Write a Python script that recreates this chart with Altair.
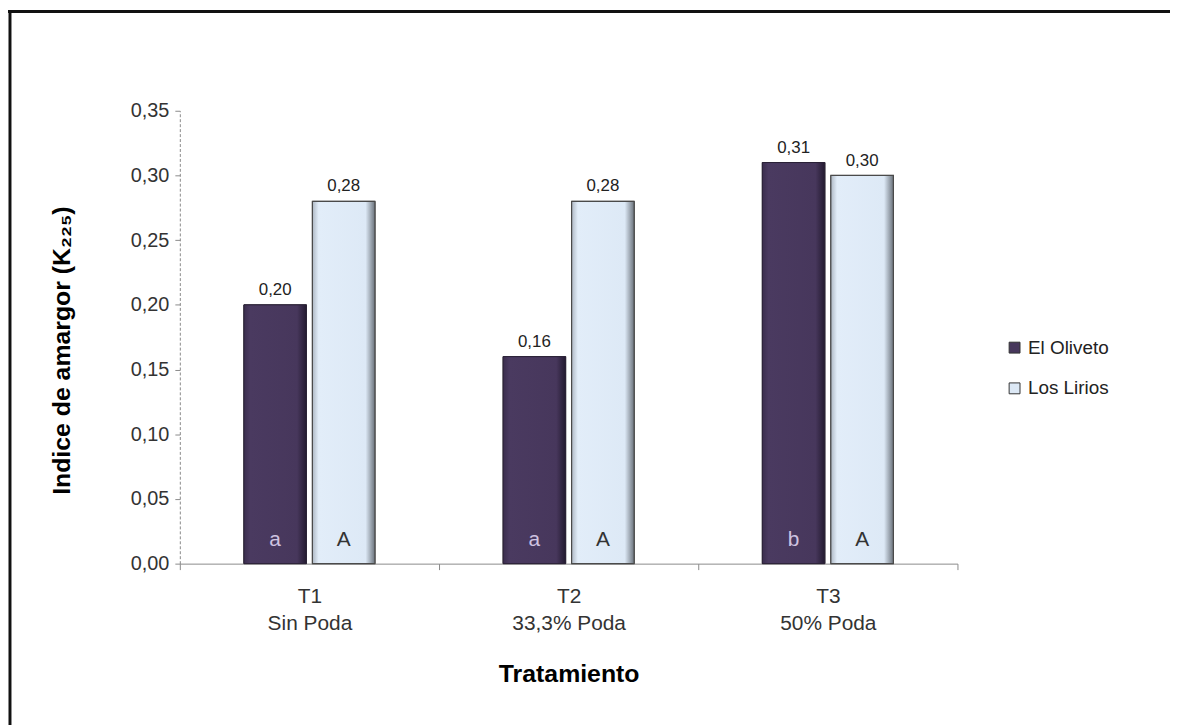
import altair as alt
import pandas as pd

categories = ["T1|Sin Poda", "T2|33,3% Poda", "T3|50% Poda"]
series = ["El Oliveto", "Los Lirios"]
oliveto = [0.20, 0.16, 0.31]
lirios = [0.28, 0.28, 0.30]
letters_oliveto = ["a", "a", "b"]
letters_lirios = ["A", "A", "A"]
y_ticks = [0, 0.05, 0.10, 0.15, 0.20, 0.25, 0.30, 0.35]

rows = []
for i, c in enumerate(categories):
    rows.append({"cat": c, "serie": series[0], "value": oliveto[i], "letter": letters_oliveto[i]})
    rows.append({"cat": c, "serie": series[1], "value": lirios[i], "letter": letters_lirios[i]})
df = pd.DataFrame(rows)

FONT = "Liberation Sans"

x_enc = alt.X(
    "cat:N", sort=categories,
    scale=alt.Scale(paddingInner=0, paddingOuter=0),
    axis=alt.Axis(
        title="Tratamiento", labelExpr="split(datum.label, '|')", labelAngle=0,
        tickBand="extent", labelFontSize=21, labelColor="#333333", labelFont=FONT,
        labelLineHeight=27, labelPadding=16, tickSize=6, tickColor="#8a8a8a",
        domainColor="#8a8a8a", titleFontSize=25, titleFont=FONT, titleFontWeight="bold",
        titleColor="#000000", titlePadding=29,
    ),
)
xoff_enc = alt.XOffset("serie:N", sort=series,
                       scale=alt.Scale(domain=series, paddingInner=0.087, paddingOuter=0.935))
y_enc = alt.Y(
    "value:Q",
    scale=alt.Scale(domain=[0, 0.35], nice=False, zero=True),
    axis=alt.Axis(
        values=y_ticks, labelExpr="replace(format(datum.value, '.2f'), '.', ',')",
        title="Indice de amargor (K₂₂₅)", labelFontSize=20, labelColor="#333333",
        labelFont=FONT, labelPadding=6, tickSize=5, tickColor="#8a8a8a",
        domainColor="#8a8a8a", domainDash=[3, 2], grid=False,
        titleFontSize=25, titleFont=FONT, titleFontWeight="bold", titleColor="#000000",
        titlePadding=56, titleY=241,
    ),
)

base = alt.Chart(df)

bars = base.mark_bar(stroke="#3a3a3a", strokeWidth=1).encode(
    x=x_enc, xOffset=xoff_enc, y=y_enc,
    color=alt.Color(
        "serie:N",
        scale=alt.Scale(domain=series, range=["#47375c", "#dce8f5"]),
        legend=alt.Legend(
            title=None, orient="none", legendX=831, legendY=229,
            labelFontSize=19, labelFont=FONT, labelColor="#222222",
            symbolType="square", symbolSize=120, symbolStrokeColor="#333333",
            symbolStrokeWidth=1, labelOffset=4, rowPadding=21,
        ),
    ),
)

grad_dark = alt.Gradient(
    gradient="linear", x1=0, x2=1, y1=0, y2=0,
    stops=[alt.GradientStop(color="#3b2e4e", offset=0),
           alt.GradientStop(color="#4a3a60", offset=0.1),
           alt.GradientStop(color="#47375c", offset=0.85),
           alt.GradientStop(color="#231a30", offset=1)],
)
grad_light = alt.Gradient(
    gradient="linear", x1=0, x2=1, y1=0, y2=0,
    stops=[alt.GradientStop(color="#aeb8c4", offset=0),
           alt.GradientStop(color="#e2edf9", offset=0.1),
           alt.GradientStop(color="#dde9f6", offset=0.85),
           alt.GradientStop(color="#6b737c", offset=1)],
)

over_dark = base.transform_filter(alt.datum.serie == series[0]).mark_bar(
    fill=grad_dark, stroke="#2a2136", strokeWidth=1
).encode(x=x_enc, xOffset=xoff_enc, y=y_enc)
over_light = base.transform_filter(alt.datum.serie == series[1]).mark_bar(
    fill=grad_light, stroke="#4a4a4a", strokeWidth=1.2
).encode(x=x_enc, xOffset=xoff_enc, y=y_enc)

values_txt = base.transform_calculate(
    label="replace(format(datum.value, '.2f'), '.', ',')"
).mark_text(baseline="alphabetic", dy=-10, fontSize=17, font=FONT, color="#222222").encode(
    x=x_enc, xOffset=xoff_enc, y=y_enc, text="label:N"
)

letters_txt = base.mark_text(baseline="alphabetic", dy=-18, fontSize=21, font=FONT).encode(
    x=x_enc, xOffset=xoff_enc, y=alt.datum(0), text="letter:N",
    color=alt.condition(alt.datum.serie == series[0], alt.value("#cfc3e0"), alt.value("#333333")),
)

one = pd.DataFrame({"k": [0]})
border_top = alt.Chart(one).mark_rule(color="#111111", strokeWidth=3).encode(
    x=alt.value(-173), x2=alt.value(1000), y=alt.value(-100)
)
border_left = alt.Chart(one).mark_rule(color="#111111", strokeWidth=3).encode(
    x=alt.value(-171), y=alt.value(-101), y2=alt.value(620)
)

chart = alt.layer(
    bars, over_dark, over_light, values_txt, letters_txt, border_top, border_left
).properties(
    width=783, height=456,
    autosize=alt.AutoSizeParams(type="none"),
    padding={"left": 173, "top": 101, "right": 214, "bottom": 160},
    background="white",
).configure_view(stroke=None)

chart.save("out.html", embed_options={"renderer": "svg", "actions": False})
